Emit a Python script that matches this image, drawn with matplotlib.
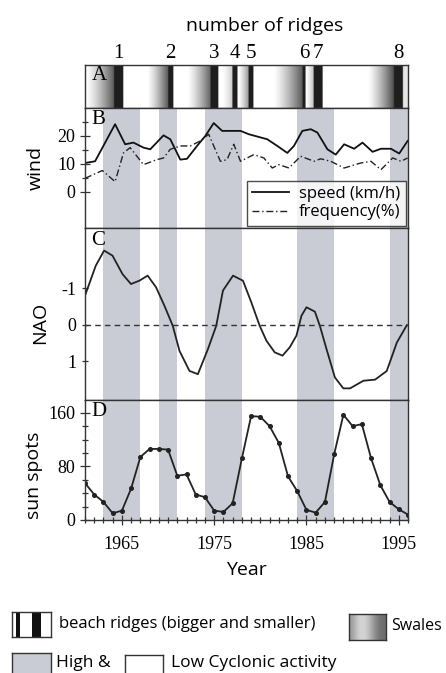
import numpy as np
import matplotlib.pyplot as plt
from matplotlib.ticker import MultipleLocator, FixedLocator

plt.rcParams["axes.unicode_minus"] = False
SANS = ["Open Sans", "DejaVu Sans"]
SERIF = ["Liberation Serif", "DejaVu Serif"]

# 太阳黑子 (年均)
years = np.arange(1961, 1997)
sunspots = [55, 38, 27, 10, 14, 47, 94, 106, 106, 105, 66, 68, 38, 34, 14, 12,
            25, 92, 155, 154, 140, 115, 65, 43, 15, 11, 27, 98, 157, 140, 143,
            92, 52, 27, 16, 8]

# 高气旋活动时段
high_start = [1963, 1969, 1974, 1984, 1994]
high_end = [1967, 1971, 1978, 1988, 1996]

# 海滩沙脊与洼地
ridge_no = ["1", "2", "3", "4", "5", "6", "7", "8"]
ridge_start = [1964.15, 1970.02, 1974.59, 1976.98, 1978.72, 1984.59, 1985.78, 1994.48]
ridge_end = [1965.13, 1970.57, 1975.46, 1977.52, 1979.26, 1984.91, 1986.76, 1995.46]
swale_start = [1961.1, 1967.74, 1972.09, 1975.9, 1977.6, 1981.43, 1984.95, 1991.65]
swale_depth = [0.35, 0.35, 0.4, 0.8, 0.6, 0.35, 0.75, 0.3]

# 风速与频率
speed_year = [1961.0, 1962.09, 1964.26, 1965.35, 1966.25, 1967.34, 1968.07, 1969.51,
              1970.24, 1971.33, 1972.05, 1973.14, 1974.04, 1974.95, 1975.86, 1977.85,
              1978.75, 1980.75, 1981.84, 1982.92, 1983.64, 1984.55, 1985.46, 1986.18,
              1987.27, 1988.17, 1989.08, 1990.17, 1991.07, 1992.16, 1993.07, 1994.15,
              1995.05, 1995.96]
speed = [10.3, 10.9, 24.2, 17.0, 17.6, 15.8, 15.2, 20.2, 18.8, 11.5, 11.8, 16.4, 20.0,
         24.6, 21.8, 21.8, 20.6, 18.8, 16.4, 13.9, 16.4, 21.8, 22.4, 21.2, 15.2, 13.3,
         17.0, 15.4, 17.6, 14.3, 15.4, 15.4, 13.7, 18.2]
freq_year = [1961.0, 1962.88, 1964.26, 1965.17, 1965.89, 1967.34, 1968.79, 1969.51,
             1970.24, 1971.33, 1972.41, 1973.5, 1974.4, 1975.67, 1976.39, 1977.12,
             1977.85, 1979.29, 1980.38, 1981.29, 1982.01, 1983.1, 1984.37, 1985.82,
             1986.54, 1987.63, 1989.08, 1990.89, 1991.98, 1993.07, 1994.34, 1995.24,
             1995.96]
freq = [4.8, 7.6, 3.6, 13.9, 15.8, 9.7, 11.5, 12.1, 15.2, 16.4, 16.4, 18.2, 20.6, 10.9,
        11.5, 17.0, 10.9, 13.3, 12.1, 8.5, 9.7, 8.5, 12.7, 10.9, 11.8, 10.9, 8.5, 10.3,
        10.9, 7.9, 12.1, 10.9, 12.1]

# NAO 指数
nao_year = [1961.0, 1962.16, 1963.07, 1963.98, 1965.07, 1965.98, 1966.88, 1967.79,
            1968.70, 1969.61, 1970.51, 1971.24, 1972.32, 1973.23, 1974.32, 1975.22,
            1975.95, 1977.04, 1978.12, 1979.03, 1979.93, 1980.66, 1981.56, 1982.4,
            1983.19, 1983.91, 1984.46, 1985.0, 1985.91, 1986.45, 1987.17, 1988.08,
            1988.99, 1989.72, 1991.17, 1992.44, 1993.7, 1994.79, 1995.88]
nao = [-0.8, -1.62, -2.04, -1.9, -1.39, -1.12, -1.21, -1.35, -1.03, -0.52, 0.03, 0.72,
       1.27, 1.36, 0.67, 0.03, -0.94, -1.35, -1.21, -0.61, 0.03, 0.44, 0.76, 0.85, 0.62,
       0.30, -0.25, -0.48, -0.36, 0.03, 0.67, 1.45, 1.75, 1.75, 1.54, 1.51, 1.27, 0.49,
       0.01]

band_color = "#caccd5"
xmin, xmax = 1961, 1996

fig = plt.figure(figsize=(4.46, 6.73), dpi=100)
L, W = 85 / 446, 323 / 446
def fy(px):
    return 1 - px / 673

axA = fig.add_axes([L, fy(108), W, 43 / 673])
axB = fig.add_axes([L, fy(228), W, 120 / 673])
axC = fig.add_axes([L, fy(400), W, 172 / 673])
axD = fig.add_axes([L, fy(520), W, 120 / 673])

for ax in (axA, axB, axC, axD):
    ax.set_xlim(xmin, xmax)
    for s in ax.spines.values():
        s.set_linewidth(1.0)
        s.set_color("#333333")
    ax.tick_params(which="both", direction="inout", width=0.9, color="#333333")
    ax.tick_params(which="major", length=7)
    ax.tick_params(which="minor", length=4)

# A: 沙脊
xx = np.linspace(xmin, xmax, 1400)
vals = np.ones_like(xx)
for s, r, d in zip(swale_start, ridge_start, swale_depth):
    m = (xx >= s) & (xx <= r)
    vals[m] = 1 - (1 - d) * ((xx[m] - s) / (r - s)) ** 1.3
for r0, r1 in zip(ridge_start, ridge_end):
    vals[(xx >= r0) & (xx <= r1)] = 0.12
m = xx > ridge_end[-1]
vals[m] = 0.9
axA.imshow(vals[None, :], cmap="gray", vmin=0, vmax=1, aspect="auto",
           extent=[xmin, xmax, 0, 1], interpolation="bilinear")
axA.set_ylim(0, 1)
axA.set_xticks([])
axA.set_yticks([])
for n, r0, r1 in zip(ridge_no, ridge_start, ridge_end):
    axA.text((r0 + r1) / 2, 1.04, n, transform=axA.get_xaxis_transform(),
             ha="center", va="bottom", fontsize=15, family=SERIF)
fig.text(265 / 446, fy(26), "number of ridges", ha="center", va="center",
         fontsize=14, family=SANS)

# 灰色条带
for ax in (axB, axC, axD):
    for a, b in zip(high_start, high_end):
        ax.axvspan(a, b, color=band_color, lw=0, zorder=0)

# B: 风
axB.plot(speed_year, speed, color="#111111", lw=1.3, label="speed (km/h)")
axB.plot(freq_year, freq, color="#222222", lw=1.0, ls=(0, (5, 2, 1, 2)),
         label="frequency(%)")
axB.set_ylim(-13, 30)
axB.set_xticks([])
axB.yaxis.set_major_locator(FixedLocator([0, 10, 20]))
axB.yaxis.set_minor_locator(FixedLocator([5, 15, 25]))
axB.set_ylabel("wind", fontsize=14, family=SANS)
axB.yaxis.set_label_coords(-0.125, 0.5)
leg = axB.legend(loc="lower right", prop={"family": SANS, "size": 12},
                 frameon=True, fancybox=False, edgecolor="#222222",
                 borderaxespad=0.15, handlelength=2.2, labelspacing=0.15,
                 borderpad=0.3, handletextpad=0.6)
leg.get_frame().set_linewidth(1.0)

# C: NAO
axC.plot(nao_year, nao, color="#222222", lw=1.3)
axC.axhline(0, color="#333333", lw=1.0, ls=(0, (4, 3)))
axC.set_ylim(2.07, -2.66)
axC.set_xticks([])
axC.set_yticks([-1, 0, 1])
axC.tick_params(which="major", length=5)
axC.set_ylabel("NAO", fontsize=14, family=SANS)
axC.yaxis.set_label_coords(-0.11, 0.45)

# D: 太阳黑子
axD.plot(years, sunspots, color="#222222", lw=1.3, marker="o", ms=2.6)
axD.set_ylim(0, 179)
axD.yaxis.set_major_locator(FixedLocator([0, 80, 160]))
axD.yaxis.set_minor_locator(MultipleLocator(20))
axD.xaxis.set_major_locator(FixedLocator([1965, 1975, 1985, 1995]))
axD.xaxis.set_minor_locator(MultipleLocator(1))
axD.tick_params(axis="x", pad=8)
axD.set_ylabel("sun spots", fontsize=14, family=SANS)
axD.yaxis.set_label_coords(-0.13, 0.375)
axD.set_xlabel("Year", fontsize=14, family=SANS, labelpad=6)

for ax in (axB, axC, axD):
    for lab in ax.get_yticklabels() + ax.get_xticklabels():
        lab.set_family(SERIF)
        lab.set_fontsize(13)

# 面板字母
for ax, t in zip((axA, axB, axC, axD), "ABCD"):
    ax.text(0.02, 0.98, t, transform=ax.transAxes, ha="left", va="top",
            fontsize=15, family=SERIF)

# 底部图例
def icon(x0, y0, x1, y1):
    a = fig.add_axes([x0 / 446, fy(y1), (x1 - x0) / 446, (y1 - y0) / 673])
    a.set_xlim(0, 1)
    a.set_ylim(0, 1)
    a.set_xticks([])
    a.set_yticks([])
    for s in a.spines.values():
        s.set_linewidth(1.0)
        s.set_color("#333333")
    return a

a1 = icon(12, 612, 51, 637)
a1.axvspan(0.09, 0.21, color="#111111", lw=0)
a1.axvspan(0.51, 0.74, color="#111111", lw=0)
fig.text(59 / 446, fy(624), "beach ridges (bigger and smaller)", ha="left",
         va="center", fontsize=12, family=SANS)

a2 = icon(349, 614, 386, 640)
grad = np.array([0.6, 0.82, 0.85, 0.7, 0.5, 0.42])
a2.imshow(grad[None, :], cmap="gray", vmin=0, vmax=1, aspect="auto",
          extent=[0, 1, 0, 1], interpolation="bicubic")
fig.text(391 / 446, fy(626), "Swales", ha="left", va="center", fontsize=11.5,
         family=SANS)

a3 = icon(12, 653, 51, 680)
a3.set_facecolor(band_color)
fig.text(56 / 446, fy(663), "High &", ha="left", va="center", fontsize=12.5,
         family=SANS)
a4 = icon(125, 655, 163, 680)
fig.text(171 / 446, fy(663), "Low Cyclonic activity", ha="left", va="center",
         fontsize=12.5, family=SANS)

fig.savefig("out.png", dpi=100)
